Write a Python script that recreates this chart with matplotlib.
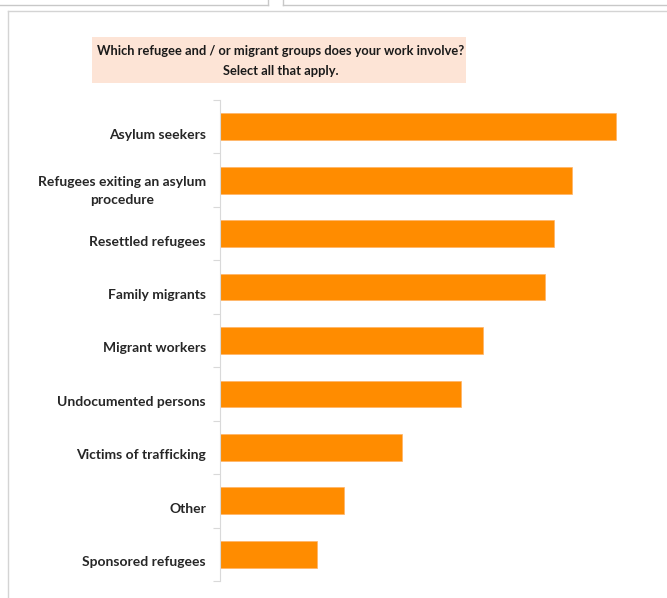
import matplotlib.pyplot as plt
import matplotlib.transforms as mtransforms
from matplotlib.patches import Rectangle
from matplotlib.lines import Line2D

# survey responses, top to bottom
groups = ["Asylum seekers", "Refugees exiting an asylum\nprocedure", "Resettled refugees",
          "Family migrants", "Migrant workers", "Undocumented persons",
          "Victims of trafficking", "Other", "Sponsored refugees"]
counts = [41, 36.4, 34.6, 33.6, 27.2, 24.9, 18.8, 12.8, 10.0]

title = "Which refugee and / or migrant groups does your work involve?\nSelect all that apply."

W, H = 667, 598
fig = plt.figure(figsize=(W / 100, H / 100), dpi=100)
plt.rcParams['font.family'] = ['Lato', 'DejaVu Sans']

# panel frames around the chart
def px_line(x0, y0, x1, y1, c="#c8c8c8", lw=1.0):
    fig.add_artist(Line2D([x0 / W, x1 / W], [1 - y0 / H, 1 - y1 / H],
                          color=c, lw=lw, transform=fig.transFigure))

px_line(0, 5, 268, 5)
px_line(268, 0, 268, 5)
px_line(283, 5, 667, 5)
px_line(283, 0, 283, 5)
px_line(8, 11, 667, 11, c="#d4d4d4")
px_line(8, 11, 8, 598, c="#d4d4d4")

# title box
fig.add_artist(Rectangle((92 / W, 1 - 83 / H), (466 - 92) / W, (83 - 37) / H,
                         facecolor="#fde4d6", edgecolor="none", transform=fig.transFigure))
fig.text(281 / W, 1 - 61 / H, title, ha="center", va="center", fontsize=9.3,
         fontweight="bold", color="#1a1a1a", linespacing=1.8)

left, right = 220, 645
top, bottom = 100, 581
ax = fig.add_axes([left / W, 1 - bottom / H, (right - left) / W, (bottom - top) / H])

ypos = list(range(len(groups)))
ax.barh(ypos, counts, height=0.5, color="#ff8c00", edgecolor="#ffb366", linewidth=0.5)
ax.set_xlim(0, 44)
ax.set_ylim(len(groups) - 0.5, -0.5)

ax.set_yticks(ypos)
ax.set_yticklabels(groups, fontsize=10, fontweight="bold", color="#262626",
                   multialignment="center", linespacing=1.55)
ax.tick_params(axis="y", length=0, pad=10)
# labels sit a little below the bar centres
shift = mtransforms.ScaledTranslation(0, -7 / 100, fig.dpi_scale_trans)
for lab in ax.get_yticklabels():
    lab.set_transform(lab.get_transform() + shift)
ax.set_yticks([i - 0.5 for i in range(len(groups) + 1)], minor=True)
ax.tick_params(axis="y", which="minor", length=5, color="#d9d9d9", width=0.8)
ax.set_xticks([])

for s in ["top", "right", "bottom"]:
    ax.spines[s].set_visible(False)
ax.spines["left"].set_color("#d9d9d9")
ax.spines["left"].set_linewidth(0.8)

fig.savefig("out.png", dpi=100)
